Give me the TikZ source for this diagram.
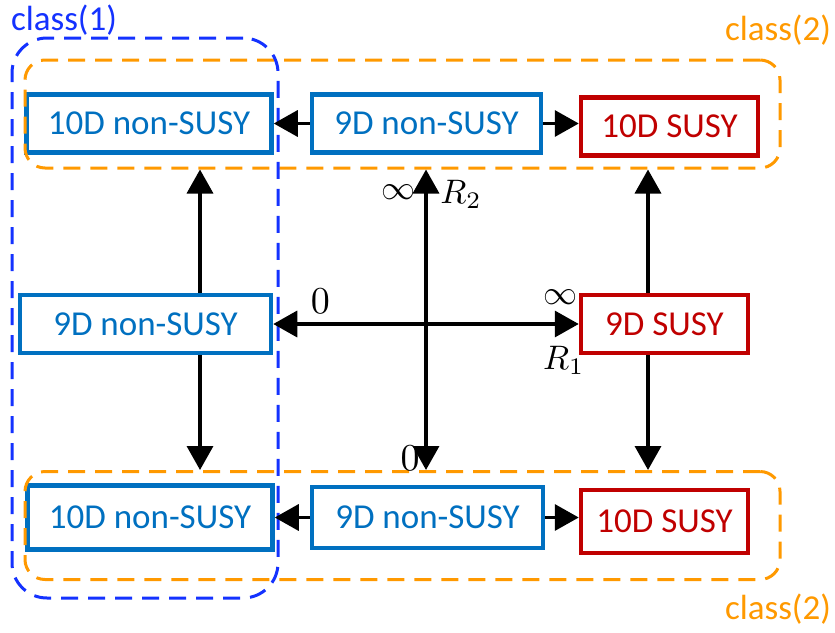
\documentclass[tikz,border=0pt]{standalone}
\usepackage{graphicx}
\usepackage{fontspec}
\setmainfont{Carlito}
\usetikzlibrary{arrows.meta}
\definecolor{boxblue}{RGB}{0,112,192}
\definecolor{boxred}{RGB}{192,0,0}
\definecolor{grporange}{RGB}{255,153,0}
\definecolor{grpblue}{RGB}{20,50,255}
\newcommand{\axlbl}[2][3.4]{\scalebox{#1}{$#2$}}
\begin{document}
\begin{tikzpicture}[x=1pt, y=-1pt,
	cls/.style = {font=\fontsize{35}{39}\selectfont},
	nsbox/.style = {cls, draw=boxblue, text=boxblue, line width=4.5pt, fill=white, inner sep=0pt},
	sbox/.style = {cls, draw=boxred, text=boxred, line width=4.5pt, fill=white, inner sep=0pt},
	grp/.style = {line width=3pt, dash pattern=on 17pt off 10pt, rounded corners=20pt, inner sep=0pt},
	link/.style = {line width=3.5pt, -{Triangle[length=24pt,width=26pt]}},
	dlink/.style = {line width=3.5pt, {Triangle[length=24pt,width=26pt]}-{Triangle[length=24pt,width=26pt]}},
	lbl/.style = {inner sep=0pt}]
	\useasboundingbox (0,0) rectangle (835,632);
	% columns of the vertical arrows
	\coordinate (colL) at (200,0);
	\coordinate (colC) at (426,0);
	\coordinate (colR) at (648,0);
	% boxes
	\node[nsbox, minimum width=245pt, minimum height=58pt] (tl) at (149,123.5) {10D non-SUSY};
	\node[nsbox, minimum width=229pt, minimum height=58pt] (tm) at (426.5,123.5) {9D non-SUSY};
	\node[sbox, minimum width=177pt, minimum height=58pt] (tr) at (669.5,126.5) {10D SUSY};
	\node[nsbox, minimum width=251pt, minimum height=58pt] (ml) at (145.5,324) {9D non-SUSY};
	\node[sbox, minimum width=167pt, minimum height=58pt] (mr) at (664.5,324) {9D SUSY};
	\node[nsbox, minimum width=245pt, minimum height=64pt] (bl) at (150,517.5) {10D non-SUSY};
	\node[nsbox, minimum width=231pt, minimum height=61pt] (bm) at (427.5,517.5) {9D non-SUSY};
	\node[sbox, minimum width=167pt, minimum height=63pt] (br) at (664.5,521.5) {10D SUSY};
	% groups
	\node[grp, draw=grporange, minimum width=755pt, minimum height=108pt] (grpTop) at (402.5,114) {};
	\node[grp, draw=grporange, minimum width=755pt, minimum height=108pt] (grpBot) at (402.5,525.5) {};
	\node[grp, draw=grpblue, rounded corners=35pt, minimum width=266pt, minimum height=560pt] (grpOne) at (145,318) {};
	\node[cls, text=grpblue] (clsOne) at (64,20) {class(1)};
	\node[cls, text=grporange] (clsTwoA) at (778,30) {class(2)};
	\node[cls, text=grporange] (clsTwoB) at (778,609) {class(2)};
	% rows
	\draw[link] (tm.west) -- (tm.west -| tl.east);
	\draw[link] (tm.east) -- (tm.east -| tr.west);
	\draw[link] (bm.west) -- (bm.west -| bl.east);
	\draw[link] (bm.east) -- (bm.east -| br.west);
	% columns
	\draw[link] (ml.north -| colL) -- (grpTop.south -| colL);
	\draw[link] (ml.south -| colL) -- (grpBot.north -| colL);
	\draw[link] (mr.north -| colR) -- (grpTop.south -| colR);
	\draw[link] (mr.south -| colR) -- (grpBot.north -| colR);
	% moduli axes
	\draw[dlink] (ml.east) -- (mr.west)
		node[pos=0, lbl, xshift=47pt, yshift=23pt] (zeroOne) {\axlbl[3.8]{0}}
		node[pos=1, lbl, xshift=-18pt, yshift=27pt] (infOne) {\axlbl{\infty}}
		node[pos=1, lbl, xshift=-15pt, yshift=-36pt] (rOne) {\axlbl{R_1}};
	\draw[dlink] (grpBot.north -| colC) -- (grpTop.south -| colC)
		node[pos=0, lbl, xshift=-16pt, yshift=12pt] (zeroTwo) {\axlbl[3.8]{0}}
		node[pos=1, lbl, xshift=-28pt, yshift=-23pt] (infTwo) {\axlbl{\infty}}
		node[pos=1, lbl, xshift=35pt, yshift=-25pt] (rTwo) {\axlbl{R_2}};
\end{tikzpicture}
\end{document}
